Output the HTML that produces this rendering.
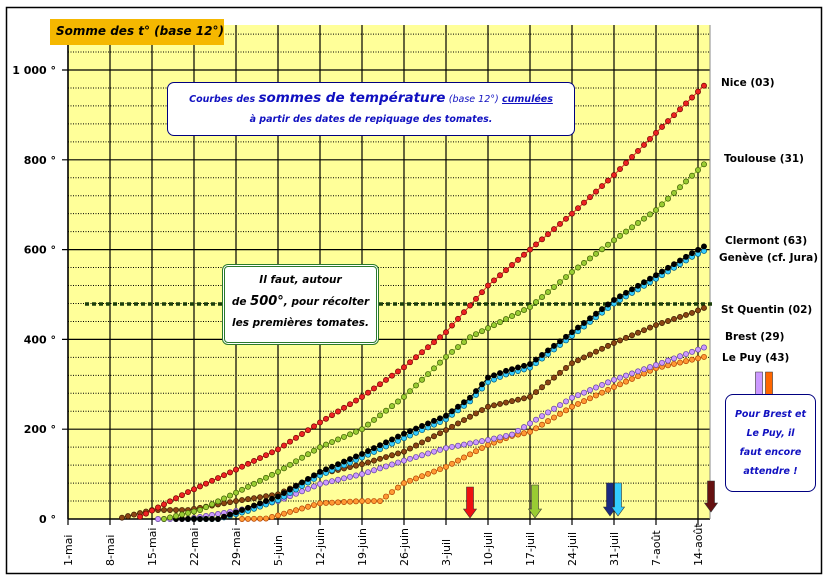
<!DOCTYPE html>
<html><head><meta charset="utf-8">
<style>
html,body{margin:0;padding:0;background:#fff;}
body{width:827px;height:579px;overflow:hidden;position:relative;font-family:"DejaVu Sans","Liberation Sans",sans-serif;}
.lab{position:absolute;font-size:10.5px;font-weight:bold;color:#000;white-space:nowrap;font-family:"DejaVu Sans",sans-serif;}
</style></head><body>
<svg id="s" width="827" height="579" xmlns="http://www.w3.org/2000/svg" style="position:absolute;left:0;top:0">
<rect x="6.5" y="7.5" width="815" height="566" fill="#fff" stroke="#000" stroke-width="1.5"/>
<rect x="68" y="25" width="642" height="494" fill="#FFFF99"/>
<g id="grid"></g>
<g id="series"></g>
<g id="ann"></g>
</svg>
<script>
const S=document.getElementById('s');
const NS="http://www.w3.org/2000/svg";
function el(tag,a,parent,txt){const e=document.createElementNS(NS,tag);for(const k in a)e.setAttribute(k,a[k]);if(txt!==undefined)e.textContent=txt;(parent||S).appendChild(e);return e;}
const X=d=>68+6*d, Y=v=>519-v*0.449;
const g=document.getElementById('grid');
for(let v=40;v<=1080;v+=40){ if(v%200==0) continue; el('line',{x1:68,x2:710,y1:Y(v),y2:Y(v),stroke:'#000','stroke-width':1,'stroke-dasharray':'1,1.5'},g);}
for(let v=200;v<=1000;v+=200){el('line',{x1:62,x2:710,y1:Y(v),y2:Y(v),stroke:'#000','stroke-width':1.2},g);
 el('text',{x:56,y:Y(v)+4,'text-anchor':'end','font-size':11,'font-weight':'bold','font-family':'DejaVu Sans,sans-serif'},g,(v==1000?'1 000':v)+' °');}
el('text',{x:56,y:Y(0)+4,'text-anchor':'end','font-size':11,'font-weight':'bold','font-family':'DejaVu Sans,sans-serif'},g,'0 °');
const dates=['1-mai','8-mai','15-mai','22-mai','29-mai','5-juin','12-juin','19-juin','26-juin','3-juil','10-juil','17-juil','24-juil','31-juil','7-août','14-août'];
dates.forEach((t,i)=>{const x=X(7*i);el('line',{x1:x,x2:x,y1:25,y2:525,stroke:'#000','stroke-width':1.2},g);
 el('text',{transform:`translate(${x+4},566) rotate(-90)`,'font-size':11,'font-family':'DejaVu Sans,sans-serif'},g,t);});
el('line',{x1:68,x2:710,y1:519,y2:519,stroke:'#000','stroke-width':1.5},g);
el('line',{x1:68,x2:68,y1:25,y2:519,stroke:'#000','stroke-width':1.5},g);
el('line',{x1:710,x2:710,y1:25,y2:519,stroke:'#888','stroke-width':1},g);
el('line',{x1:85,x2:712,y1:304,y2:304,stroke:'#1a3d0a','stroke-width':3.5,'stroke-dasharray':'4,3'},g);
function interp(pts){const out=[];for(let d=pts[0][0];d<=pts[pts.length-1][0];d++){let i=0;while(pts[i+1]&&pts[i+1][0]<d)i++;const a=pts[i],b=pts[i+1]||a;const t=b[0]==a[0]?0:(d-a[0])/(b[0]-a[0]);out.push([d,a[1]+(b[1]-a[1])*t]);}return out;}
const series=[
 ['#FF9933','#B04000',[[29,0],[33,1],[35,8],[42,35],[49,40],[52,40],[56,80],[63,116],[70,165],[74,185],[77,194],[84,250],[91,294],[98,336],[106,361]]],
 ['#CC99FF','#6040A0',[[15,0],[20,0],[28,18],[35,40],[42,78],[49,100],[56,130],[63,158],[70,176],[74,188],[77,213],[84,270],[91,310],[98,343],[106,382]]],
 ['#8B4513','#3a1a00',[[9,3],[14,20],[20,20],[28,40],[35,55],[42,100],[49,122],[56,150],[63,198],[70,250],[77,272],[84,347],[91,392],[98,432],[104,459],[106,470]]],
 ['#33CCFF','#005577',[[20,0],[25,0],[30,18],[35,42],[42,97],[49,137],[56,180],[63,222],[67,262],[70,305],[73,322],[77,337],[84,408],[91,480],[98,535],[104,584],[106,597]]],
 ['#000000','#000000',[[18,0],[25,0],[30,25],[35,50],[42,105],[49,145],[56,190],[63,230],[67,270],[70,315],[73,330],[77,345],[84,416],[91,488],[98,543],[104,592],[106,607]]],
 ['#99CC33','#3a5a00',[[16,0],[22,20],[29,65],[35,105],[42,160],[49,200],[56,272],[63,361],[67,405],[77,472],[84,550],[91,621],[98,688],[106,790]]],
 ['#EE2222','#700000',[[12,5],[20,60],[28,110],[35,155],[42,215],[49,272],[56,338],[63,416],[70,520],[77,600],[84,680],[91,766],[98,860],[106,965]]]
];
const sg=document.getElementById('series');
series.forEach(([f,st,p])=>{const pts=interp(p);
 el('polyline',{points:pts.map(q=>X(q[0])+','+Y(q[1])).join(' '),fill:'none',stroke:f,'stroke-width':1},sg);
 pts.forEach(q=>el('circle',{cx:X(q[0]),cy:Y(q[1]),r:2.6,fill:f,stroke:st,'stroke-width':0.7},sg));});
const an=document.getElementById('ann');
function arrow(x,y1,y2,c,w){w=w||7;el('path',{d:`M${x-w/2},${y1} h${w} v${y2-y1-9} h3 l${-w/2-3},9 l${-w/2-3},-9 h3 z`,fill:c,stroke:'#333','stroke-width':0.6},an);}
arrow(470,487,518,'#EE1111');arrow(535,485,518,'#99CC33');arrow(610,483,516,'#1a2a80');arrow(618,483,516,'#33CCFF');arrow(711,481,512,'#661111');
arrow(759,372,404,'#CC99FF');arrow(769,372,404,'#FF6600');
</script>
<div style="position:absolute;left:50px;top:19px;width:174px;height:26px;background:#F5B800;"></div>
<div class="lab" style="left:56px;top:24px;font-size:12px;font-style:italic;">Somme des t° (base 12°)</div>
<div style="position:absolute;left:167px;top:82px;width:406px;height:52px;background:#fff;border:1.5px solid #000080;border-radius:7px;text-align:center;color:#1010C0;font-style:italic;font-weight:bold;font-size:9.5px;line-height:20px;font-family:'DejaVu Sans',sans-serif;">
<div style="margin-top:5px">Courbes des <span style="font-size:13.5px">sommes de température</span> <span style="font-weight:normal">(base 12°)</span> <u>cumulées</u></div>
<div>à partir des dates de repiquage des tomates.</div></div>
<div style="position:absolute;left:222px;top:264px;width:151px;height:75px;background:#fff;border:3px double #2a7a2a;border-radius:6px;text-align:center;color:#000;font-style:italic;font-weight:bold;font-size:10.5px;line-height:21px;font-family:'DejaVu Sans',sans-serif;">
<div style="margin-top:3px">Il faut, autour</div><div>de <span style="font-size:13px">500°</span>, pour récolter</div><div>les premières tomates.</div></div>
<div style="position:absolute;left:725px;top:394px;width:89px;height:96px;background:#fff;border:1.5px solid #000080;border-radius:8px;text-align:center;color:#1010C0;font-style:italic;font-weight:bold;font-size:9.5px;line-height:19px;font-family:'DejaVu Sans',sans-serif;">
<div style="margin-top:10px">Pour Brest et</div><div>Le Puy, il</div><div>faut encore</div><div>attendre !</div></div>
<div class="lab" style="left:721px;top:77px">Nice (03)</div>
<div class="lab" style="left:724px;top:153px">Toulouse (31)</div>
<div class="lab" style="left:725px;top:235px">Clermont (63)</div>
<div class="lab" style="left:719px;top:252px">Genève (cf. Jura)</div>
<div class="lab" style="left:721px;top:304px">St Quentin (02)</div>
<div class="lab" style="left:725px;top:331px">Brest (29)</div>
<div class="lab" style="left:722px;top:352px">Le Puy (43)</div>
</body></html>
